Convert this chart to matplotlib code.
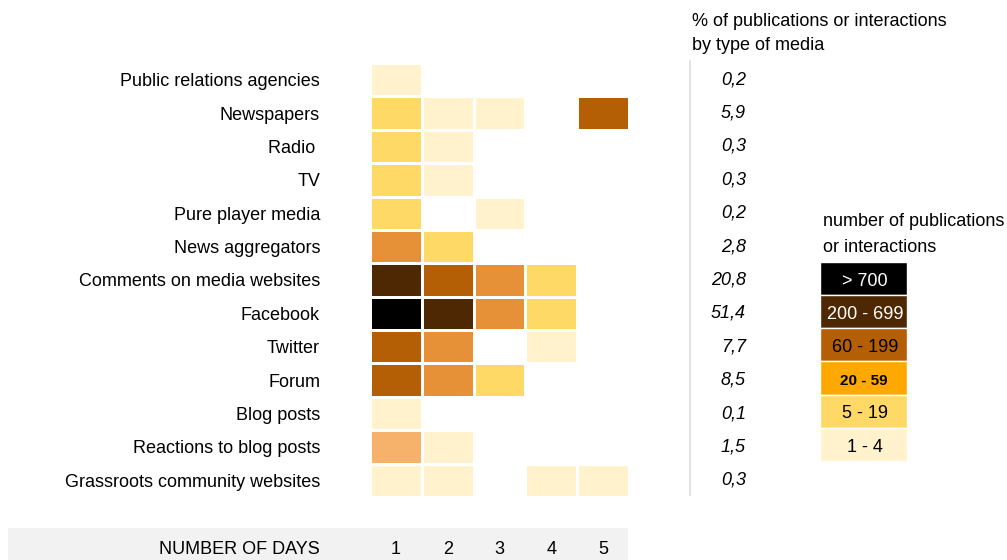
import numpy as np
import matplotlib
matplotlib.use('Agg')
import matplotlib.pyplot as plt
import matplotlib.transforms as mtrans
from matplotlib.colors import ListedColormap, BoundaryNorm
from matplotlib.patches import Rectangle

plt.rcParams['font.family'] = ['Liberation Sans', 'DejaVu Sans']

media = ['Public relations agencies', 'Newspapers', 'Radio ', 'TV',
         'Pure player media', 'News aggregators', 'Comments on media websites',
         'Facebook', 'Twitter', 'Forum', 'Blog posts',
         'Reactions to blog posts', 'Grassroots community websites']
days = [1, 2, 3, 4, 5]
pct = ['0,2', '5,9', '0,3', '0,3', '0,2', '2,8', '20,8',
       '51,4', '7,7', '8,5', '0,1', '1,5', '0,3']

# colour class of each cell (0 = no publication)
levels = [
    [1, 0, 0, 0, 0],
    [2, 1, 1, 0, 5],
    [2, 1, 0, 0, 0],
    [2, 1, 0, 0, 0],
    [2, 0, 1, 0, 0],
    [4, 2, 0, 0, 0],
    [6, 5, 4, 2, 0],
    [7, 6, 4, 2, 0],
    [5, 4, 0, 1, 0],
    [5, 4, 2, 0, 0],
    [1, 0, 0, 0, 0],
    [3, 1, 0, 0, 0],
    [1, 1, 0, 1, 1],
]
cell_colors = ['#FFFFFF', '#FFF2CC', '#FFD966', '#F6B26B', '#E69138',
               '#B45F06', '#4E2803', '#000000']

legend_labels = ['> 700', '200 - 699', '60 - 199', '20 - 59', '5 - 19', '1 - 4']
legend_colors = ['#000000', '#4E2803', '#B45F06', '#FFA800', '#FFD966', '#FFF2CC']
legend_text_colors = ['white', 'white', 'black', 'black', 'black', 'black']

FS = 13
W, H = 1007, 560
fig = plt.figure(figsize=(W / 100, H / 100), dpi=100)

# bottom grey band
fig.patches.append(Rectangle((8 / W, 0), 620 / W, 32 / H, transform=fig.transFigure,
                             facecolor='#F2F2F2', edgecolor='none', zorder=-1))

ax = fig.add_axes([370 / W, 1 - 497 / H, 259 / W, 434 / H])
data = np.array(levels)
cmap = ListedColormap(cell_colors)
norm = BoundaryNorm(np.arange(-0.5, len(cell_colors)), cmap.N)
xe = np.arange(0.5, len(days) + 1)
ye = np.arange(0.5, len(media) + 1)
ax.pcolormesh(xe, ye, data, cmap=cmap, norm=norm, edgecolors='white', linewidth=1)
ax.set_xlim(0.5, len(days) + 0.5)
ax.set_ylim(len(media) + 0.5, 0.5)
ax.set_yticks(np.arange(1, len(media) + 1))
ax.set_yticklabels(media, fontsize=FS)
ax.tick_params(axis='y', length=0, pad=36)
ax.set_xticks([])
for s in ax.spines.values():
    s.set_visible(False)

# day numbers and axis title in the grey band
bt = mtrans.blended_transform_factory(ax.transData, fig.transFigure)
for d in days:
    ax.text(d, 1 - 550 / H, str(d), transform=bt, ha='center', va='center', fontsize=FS)
fig.text(320 / W, 1 - 550 / H, 'NUMBER OF DAYS', ha='right', va='center', fontsize=FS)

# percentage column
pt = mtrans.blended_transform_factory(fig.transFigure, ax.transData)
for i, p in enumerate(pct):
    ax.text(746 / W, i + 1, p, transform=pt, ha='right', va='center',
            fontsize=FS, style='italic')
ax.plot([690 / W, 690 / W], [0.45, len(media) + 0.45], transform=pt,
        color='#DDDDDD', linewidth=1.2, clip_on=False)
fig.text(692 / W, 1 - 21 / H, '% of publications or interactions', ha='left',
         va='center', fontsize=FS)
fig.text(692 / W, 1 - 46 / H, 'by type of media', ha='left', va='center', fontsize=FS)

# legend
lax = fig.add_axes([820 / W, 1 - 461 / H, 87 / W, 199 / H])
n = len(legend_labels)
lax.barh(np.arange(n), [1] * n, height=1, left=0, color=legend_colors,
         edgecolor='white', linewidth=1)
lax.set_xlim(0, 1)
lax.set_ylim(n - 0.5, -0.5)
lax.axis('off')
for i, lab in enumerate(legend_labels):
    bold = lab == '20 - 59'
    lax.text(0.5 if bold else 0.52, i + 0.08, lab, ha='center', va='center',
             color=legend_text_colors[i], fontsize=11 if bold else FS,
             fontweight='bold' if bold else 'normal')
fig.text(823 / W, 1 - 222 / H, 'number of publications', ha='left', va='center', fontsize=FS)
fig.text(823 / W, 1 - 247 / H, 'or interactions', ha='left', va='center', fontsize=FS)

fig.savefig('out.png', dpi=100)
